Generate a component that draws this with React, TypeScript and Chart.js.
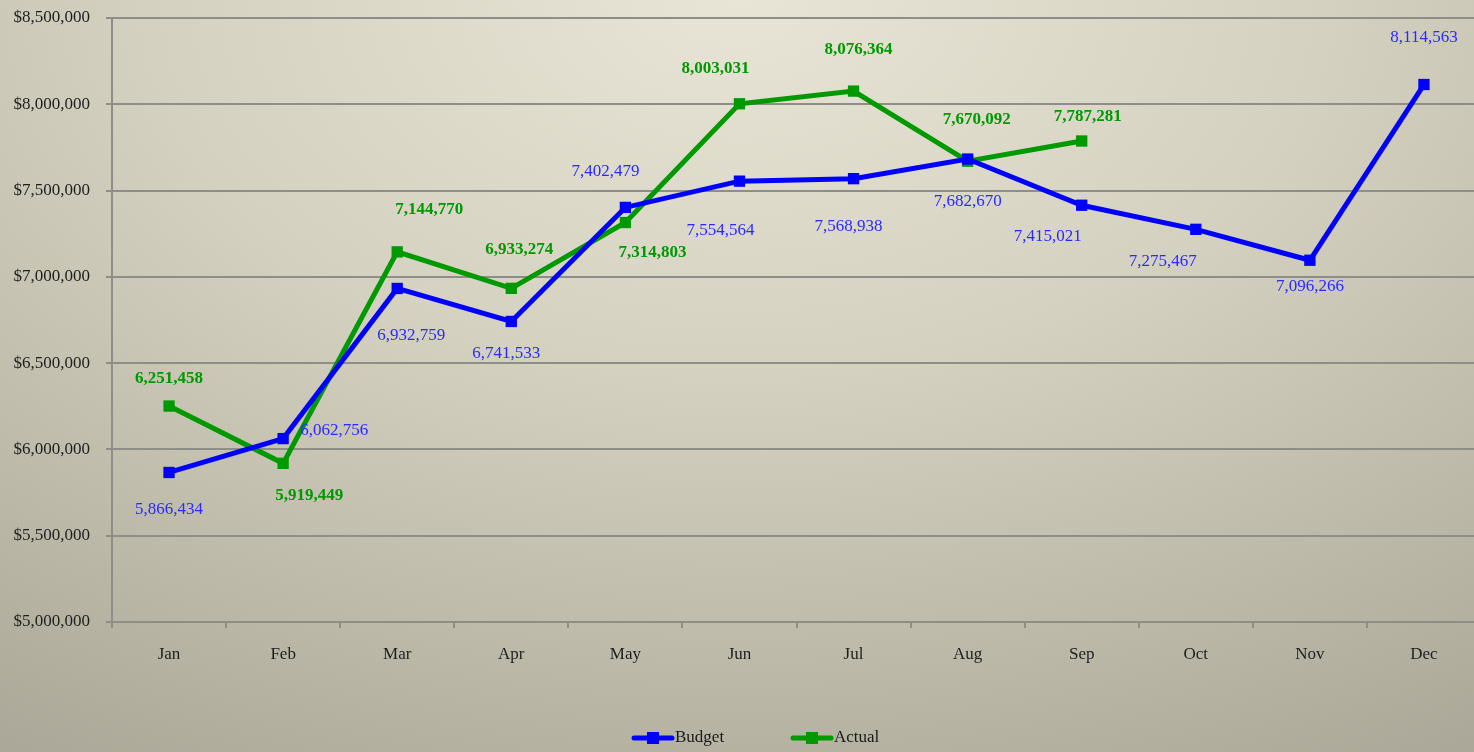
import React, { useEffect, useRef } from "react";
import { Chart, registerables } from "chart.js";

Chart.register(...registerables);

const months = ["Jan", "Feb", "Mar", "Apr", "May", "Jun", "Jul", "Aug", "Sep", "Oct", "Nov", "Dec"];
const budget = [5866434, 6062756, 6932759, 6741533, 7402479, 7554564, 7568938, 7682670, 7415021, 7275467, 7096266, 8114563];
const actual = [6251458, 5919449, 7144770, 6933274, 7314803, 8003031, 8076364, 7670092, 7787281];

// label placement offsets (dx, dy) relative to each point
const budgetLabelOffsets: [number, number][] = [
  [0, 37], [51, -8], [14, 47], [-5, 32], [-20, -36], [-19, 49],
  [-5, 48], [0, 42], [-34, 31], [-33, 32], [0, 26], [0, -47],
];
const actualLabelOffsets: [number, number][] = [
  [0, -27], [26, 32], [32, -42], [8, -39], [27, 30], [-24, -35],
  [5, -41], [9, -42], [6, -24],
];

const BLUE = "#0000ff";
const GREEN = "#009900";
const GRID = "#8e8d88";
const FONT = "'Liberation Serif', 'Times New Roman', serif";

const fmt = (v: number) => v.toLocaleString("en-US");

const labelPlugin = {
  id: "valueLabels",
  afterDatasetsDraw(chart: any) {
    const ctx = chart.ctx;
    ctx.save();
    ctx.textAlign = "center";
    ctx.textBaseline = "middle";
    chart.data.datasets.forEach((ds: any, i: number) => {
      const meta = chart.getDatasetMeta(i);
      const offs = i === 0 ? budgetLabelOffsets : actualLabelOffsets;
      ctx.fillStyle = i === 0 ? "#2a2aff" : GREEN;
      ctx.font = i === 0 ? `17px ${FONT}` : `bold 17px ${FONT}`;
      meta.data.forEach((pt: any, j: number) => {
        const v = ds.data[j];
        if (v == null) return;
        const [dx, dy] = offs[j] || [0, -25];
        ctx.fillText(fmt(v), pt.x + dx, pt.y + dy);
      });
    });
    ctx.restore();
  },
};

const legendPlugin = {
  id: "customLegend",
  afterDraw(chart: any) {
    const ctx = chart.ctx;
    const y = 738;
    const items = [
      { label: "Budget", color: BLUE, x: 632 },
      { label: "Actual", color: GREEN, x: 791 },
    ];
    ctx.save();
    items.forEach((it) => {
      ctx.strokeStyle = it.color;
      ctx.lineWidth = 5;
      ctx.lineCap = "round";
      ctx.beginPath();
      ctx.moveTo(it.x + 2, y);
      ctx.lineTo(it.x + 40, y);
      ctx.stroke();
      ctx.fillStyle = it.color;
      ctx.fillRect(it.x + 15, y - 6, 12, 12);
      ctx.fillStyle = "#1a1a1a";
      ctx.font = `17px ${FONT}`;
      ctx.textAlign = "left";
      ctx.textBaseline = "middle";
      ctx.fillText(it.label, it.x + 43, y);
    });
    ctx.restore();
  },
};

export default function App() {
  const ref = useRef<HTMLCanvasElement | null>(null);

  useEffect(() => {
    if (!ref.current) return;
    const chart = new Chart(ref.current, {
      type: "line",
      data: {
        labels: months,
        datasets: [
          {
            label: "Budget",
            data: budget,
            borderColor: BLUE,
            backgroundColor: BLUE,
            borderWidth: 5,
            pointStyle: "rect",
            pointRadius: 8,
            pointBorderWidth: 0,
            tension: 0,
          },
          {
            label: "Actual",
            data: actual,
            borderColor: GREEN,
            backgroundColor: GREEN,
            borderWidth: 5,
            pointStyle: "rect",
            pointRadius: 8,
            pointBorderWidth: 0,
            tension: 0,
          },
        ],
      },
      options: {
        responsive: false,
        animation: false,
        layout: { padding: { top: 18, right: 31, left: 0, bottom: 0 } },
        plugins: {
          legend: { display: false },
          tooltip: { enabled: false },
        },
        scales: {
          x: {
            offset: true,
            grid: {
              offset: true,
              drawOnChartArea: false,
              drawTicks: true,
              tickLength: 6,
              color: GRID,
              lineWidth: 2,
            },
            border: { color: GRID, width: 2 },
            ticks: {
              color: "#1e1e1e",
              font: { family: FONT, size: 17 },
              padding: 16,
              maxRotation: 0,
            },
            afterFit: (s: any) => {
              s.height = 130;
              s.paddingLeft = 0;
              s.paddingRight = 0;
            },
          },
          y: {
            min: 5000000,
            max: 8500000,
            grid: {
              color: GRID,
              lineWidth: 2,
              tickLength: 6,
            },
            border: { color: GRID, width: 2 },
            ticks: {
              stepSize: 500000,
              color: "#1e1e1e",
              font: { family: FONT, size: 17 },
              padding: 16,
              callback: (v: any) => "$" + Number(v).toLocaleString("en-US"),
            },
            afterFit: (s: any) => {
              s.width = 112;
              s.paddingTop = 0;
              s.paddingBottom = 0;
            },
          },
        },
      },
      plugins: [labelPlugin, legendPlugin],
    });
    return () => chart.destroy();
  }, []);

  return (
    <div
      style={{
        position: "fixed",
        left: 0,
        top: 0,
        width: 1474,
        height: 752,
        overflow: "hidden",
        background:
          "radial-gradient(ellipse 100% 125% at 50% 0%, #e8e5d6 0%, #d4d1c1 40%, #b9b6a6 75%, #a6a394 100%)",
      }}
    >
      <canvas ref={ref} width={1512} height={752} style={{ display: "block" }} />
    </div>
  );
}
